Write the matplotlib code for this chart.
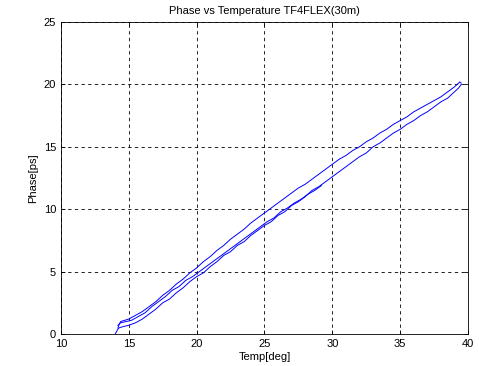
import matplotlib
matplotlib.use('Agg')
import matplotlib.pyplot as plt

plt.rcParams['font.family'] = ['Liberation Sans', 'DejaVu Sans']

# first heating pass (lower branch)
temp_up = [14.0, 14.1, 14.2, 14.3, 14.6, 15.0, 15.5, 16.0, 16.5, 17.0, 17.5, 18.0,
           18.5, 19.0, 19.5, 20.0, 20.5, 21.0, 21.5, 22.0, 22.5, 23.0, 23.5, 24.0,
           24.5, 25.0, 25.5, 26.0, 26.5, 27.0, 27.5, 28.0, 28.5, 29.0, 29.5, 30.0,
           30.5, 31.0, 31.5, 32.0, 32.5, 33.0, 33.5, 34.0, 34.5, 35.0, 35.5, 36.0,
           36.5, 37.0, 37.5, 38.0, 38.5, 39.0, 39.3, 39.5]
phase_up = [0.0, 0.2, 0.4, 0.5, 0.6, 0.7, 0.9, 1.2, 1.6, 2.0, 2.5, 2.8,
            3.3, 3.7, 4.2, 4.6, 4.9, 5.4, 5.8, 6.3, 6.6, 7.1, 7.4, 7.9,
            8.3, 8.7, 9.0, 9.5, 9.8, 10.3, 10.6, 11.0, 11.5, 11.8, 12.2, 12.6,
            13.0, 13.4, 13.8, 14.2, 14.5, 15.0, 15.3, 15.7, 16.1, 16.4, 16.8, 17.1,
            17.5, 17.8, 18.2, 18.6, 18.9, 19.4, 19.7, 20.0]

# cooling pass (upper branch)
temp_down = [39.5, 39.4, 39.2, 39.0, 38.5, 38.0, 37.5, 37.0, 36.5, 36.0, 35.5, 35.0,
             34.5, 34.0, 33.5, 33.0, 32.5, 32.0, 31.5, 31.0, 30.5, 30.0, 29.5, 29.0,
             28.5, 28.0, 27.5, 27.0, 26.5, 26.0, 25.5, 25.0, 24.5, 24.0, 23.5, 23.0,
             22.5, 22.0, 21.5, 21.0, 20.5, 20.0, 19.5, 19.0, 18.5, 18.0, 17.5, 17.0,
             16.5, 16.0, 15.5, 15.0, 14.7, 14.4, 14.3, 14.2]
phase_down = [20.1, 20.2, 20.0, 19.8, 19.4, 19.0, 18.7, 18.4, 18.1, 17.8, 17.4, 17.1,
              16.8, 16.4, 16.1, 15.7, 15.4, 15.0, 14.7, 14.3, 14.0, 13.6, 13.2, 12.8,
              12.4, 12.0, 11.7, 11.3, 10.9, 10.5, 10.1, 9.7, 9.3, 8.9, 8.4, 8.0,
              7.6, 7.1, 6.7, 6.2, 5.8, 5.3, 4.9, 4.4, 4.0, 3.5, 3.1, 2.6,
              2.2, 1.8, 1.5, 1.2, 1.1, 1.0, 0.8, 0.5]

# second heating pass, partial
temp_up2 = [14.2, 14.4, 14.8, 15.2, 15.7, 16.2, 16.7, 17.2, 17.7, 18.2, 18.7, 19.2,
            19.7, 20.2, 20.7, 21.2, 21.7, 22.2, 22.7, 23.2, 23.7, 24.2, 24.7, 25.2,
            25.7, 26.2, 26.7, 27.2, 27.7, 28.2, 28.7, 29.2]
phase_up2 = [0.7, 0.9, 1.0, 1.1, 1.4, 1.7, 2.2, 2.6, 3.0, 3.5, 3.8, 4.3,
             4.6, 5.0, 5.4, 5.8, 6.2, 6.6, 7.0, 7.4, 7.8, 8.2, 8.6, 9.0,
             9.3, 9.8, 10.1, 10.5, 10.8, 11.2, 11.5, 11.9]

xticks = [10, 15, 20, 25, 30, 35, 40]
yticks = [0, 5, 10, 15, 20, 25]

fig = plt.figure(figsize=(4.79, 3.66), dpi=100)
ax = fig.add_axes([0.1273, 0.0874, 0.8497, 0.8525])

ax.plot(temp_up, phase_up, color='blue', lw=0.7)
ax.plot(temp_down, phase_down, color='blue', lw=0.7)
ax.plot(temp_up2, phase_up2, color='blue', lw=0.7)

ax.set_xlim(10, 40)
ax.set_ylim(0, 25)
ax.set_xticks(xticks)
ax.set_yticks(yticks)
ax.tick_params(direction='in', length=3, labelsize=8, width=0.6, top=True, right=True)
ax.grid(True, color='black', linestyle=(0, (4, 4)), lw=0.6)
for s in ax.spines.values():
    s.set_linewidth(0.6)

ax.set_title('Phase vs Temperature TF4FLEX(30m)', fontsize=8, pad=6)
ax.set_xlabel('Temp[deg]', fontsize=8, labelpad=2)
ax.set_ylabel('Phase[ps]', fontsize=8, labelpad=4)

fig.savefig('out.png', dpi=100)
